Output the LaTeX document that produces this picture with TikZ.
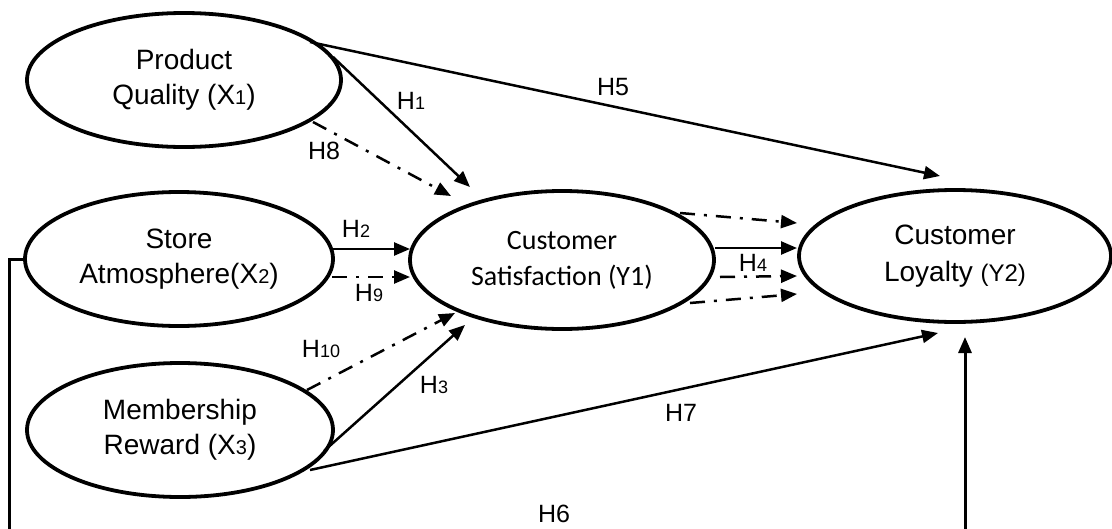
\documentclass[tikz,border=0pt]{standalone}
\usepackage{fontspec}
\setmainfont{Liberation Sans}
\newfontfamily\calibri{Carlito}
\usetikzlibrary{arrows.meta,shapes.geometric,calc}
\newcommand{\sbs}[1]{{\fontsize{20}{20}\selectfont #1}}
\newcommand{\lsb}[1]{{\fontsize{18}{18}\selectfont #1}}
\begin{document}
\begin{tikzpicture}[x=1pt,y=-1pt,
  construct/.style={ellipse, draw, line width=3.8pt, inner sep=0pt, align=center,
    font=\fontsize{28}{35}\selectfont},
  arr/.style={line width=2.5pt, -{Triangle[length=16pt,width=13pt]}},
  dd/.style={arr, dash pattern=on 15pt off 9pt on 3pt off 9pt},
  hyp/.style={font=\fontsize{25}{25}\selectfont, inner sep=0pt}]
\useasboundingbox (0,0) rectangle (1112,528);
\clip (0,0) rectangle (1112,528);
% constructs
\node[construct, minimum width=314pt, minimum height=134pt] (pq) at (184,80) {Product\\Quality (X\sbs{1})};
\node[construct, minimum width=308pt, minimum height=134pt] (sa) at (179,259) {Store\\Atmosphere(X\sbs{2})};
\node[construct, minimum width=306pt, minimum height=134pt] (mr) at (180,430) {Membership\\Reward (X\sbs{3})};
\node[construct, minimum width=304pt, minimum height=138pt, font=\calibri\fontsize{28}{36}\selectfont] (cs) at (562,260) {Customer\\Satisfaction (Y1)};
\node[construct, minimum width=312pt, minimum height=132pt, font=\fontsize{28}{37}\selectfont] (cl) at (955,256) {Customer\\Loyalty {\fontsize{24}{24}\selectfont(Y2)}};
% hypotheses
\draw[arr] ($(pq.center)+(126,-38)$) -- ($(cl.center)+(-15,-80)$);
\draw[arr] ($(pq.center)+(149,-23)$) -- ($(cs.center)+(-92,-73)$);
\draw[dd]  ($(pq.center)+(129,42)$) -- ($(cs.center)+(-111,-64)$);
\draw[arr] ($(sa.center)+(153,-10)$) -- ($(cs.center)+(-152,-11)$);
\draw[dd]  ($(sa.center)+(153,18)$) -- ($(cs.center)+(-152,17)$);
\draw[dd]  ($(mr.center)+(127,-40)$) -- ($(cs.center)+(-107,53)$);
\draw[arr] ($(mr.center)+(144,21)$) -- ($(cs.center)+(-97,65)$);
\draw[arr] ($(mr.center)+(130,40)$) -- ($(cl.center)+(-17,77)$);
\draw[dd]  ($(cs.center)+(118,-47)$) -- ($(cl.center)+(-158,-33)$);
\draw[arr] ($(cs.center)+(153,-12)$) -- ($(cl.center)+(-158,-8)$);
\draw[dd]  ($(cs.center)+(158,17)$) -- ($(cl.center)+(-158,20)$);
\draw[dd]  ($(cs.center)+(128,43)$) -- ($(cl.center)+(-158,38)$);
\draw[arr, line width=3pt] (sa.west) -- ++(-14,0) -- ++(0,300) -| ($(cl.center)+(10,81)$);
% labels
\node[hyp] (l1) at (411,101) {H\lsb{1}};
\node[hyp] (l8) at (324,151) {H8};
\node[hyp] (l5) at (613,87) {H5};
\node[hyp] (l2) at (356,229) {H\lsb{2}};
\node[hyp] (l9) at (369,293) {H\lsb{9}};
\node[hyp] (l10) at (321,349) {H\lsb{10}};
\node[hyp] (l3) at (434,385) {H\lsb{3}};
\node[hyp] (l4) at (753,263) {H\lsb{4}};
\node[hyp] (l7) at (681,413) {H7};
\node[hyp] (l6) at (554,514) {H6};
\end{tikzpicture}
\end{document}
